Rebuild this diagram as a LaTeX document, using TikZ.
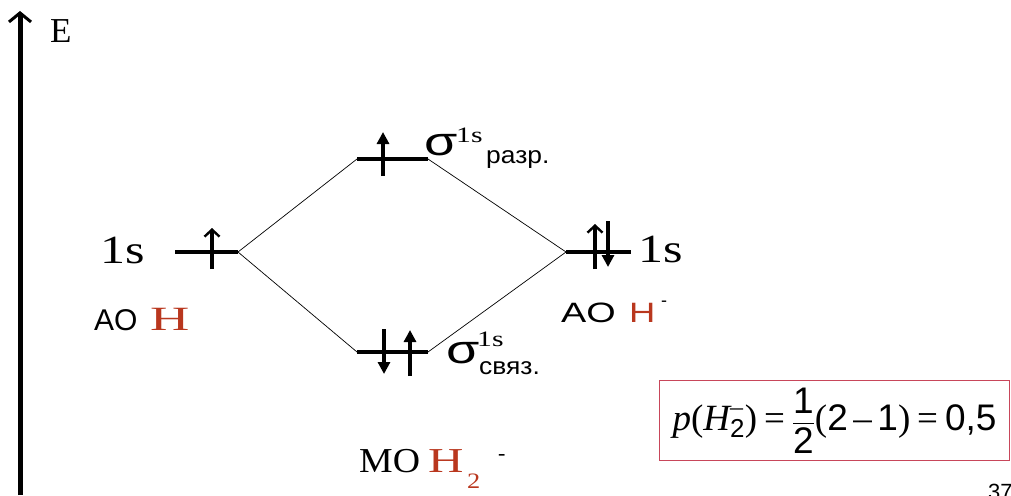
\documentclass[tikz,border=0pt]{standalone}
\usepackage{amsmath}
\usepackage{fontspec}
\setmainfont{Liberation Serif}
\newfontfamily\arialf{Liberation Sans}
\usetikzlibrary{arrows.meta}
\definecolor{hred}{RGB}{185,55,30}
\definecolor{boxred}{RGB}{200,70,90}
\newcommand\myfs[1]{\fontsize{#1}{#1}\selectfont}
\newcommand\af[1]{\text{\arialf #1}}
\newcommand\tf[1]{\text{#1}}
\newcommand\sx[2]{\scalebox{#1}[1]{#2}}
\begin{document}
\begin{tikzpicture}[x=1pt,y=-1pt,
  level/.style={line width=3.6pt},
  conn/.style={line width=0.7pt},
  upo/.style={line width=3.2pt,-{Straight Barb[length=7pt,width=15pt,line width=2.4pt]}},
  efill/.style={line width=3.2pt,-{Triangle[length=12pt,width=12pt]}},
  txt/.style={anchor=base west,inner sep=0pt}]
\useasboundingbox (0,0) rectangle (1011,495);
% axis
\coordinate (ax0) at (20,495);
\coordinate (ax1) at (20,11);
\draw[line width=5pt,-{Straight Barb[length=9pt,width=22pt,line width=3pt]}] (ax0) -- (ax1);
\node[txt,font=\myfs{35}] (E) at (50,42) {E};
% levels
\coordinate (L1) at (175,252); \coordinate (L2) at (238,252);
\coordinate (U1) at (357,159); \coordinate (U2) at (428,159);
\coordinate (B1) at (357,352); \coordinate (B2) at (428,352);
\coordinate (R1) at (566,252); \coordinate (R2) at (631,252);
\draw[level] (L1) -- (L2);
\draw[level] (U1) -- (U2);
\draw[level] (B1) -- (B2);
\draw[level] (R1) -- (R2);
\draw[conn] (L2) -- (U1);
\draw[conn] (L2) -- (B1);
\draw[conn] (U2) -- (R1);
\draw[conn] (B2) -- (R1);
% electrons
\draw[upo] (212,269) -- (212,228);
\draw[efill] (383,176) -- (383,132);
\draw[upo] (595,269) -- (595,224);
\draw[efill] (608,221) -- (608,267);
\draw[efill] (384,329) -- (384,374);
\draw[efill] (410,376) -- (410,330);
% labels
\node[txt,font=\myfs{40}] (s1l) at (100,263) {\sx{1.25}{1s}};
\node[txt,font=\myfs{40}] (s1r) at (638,262) {\sx{1.25}{1s}};
\node[txt,font=\arialf\myfs{40}] (sgu) at (424,155) {\sx{1.35}{σ}};
\node[txt,font=\myfs{22}] (sgu1) at (456,142) {\sx{1.35}{1s}};
\node[txt,font=\arialf\myfs{24}] (sgu2) at (486,163) {\sx{1.1}{разр.}};
\node[txt,font=\arialf\myfs{40}] (sgb) at (446,363) {\sx{1.35}{σ}};
\node[txt,font=\myfs{22}] (sgb1) at (477,346) {\sx{1.35}{1s}};
\node[txt,font=\arialf\myfs{24}] (sgb2) at (479,374) {\sx{1.1}{связ.}};
\node[txt,font=\arialf\myfs{30}] (aol) at (94,330) {AO};
\node[txt,font=\myfs{34},text=hred] (hl) at (150,330) {\sx{1.6}{H}};
\node[txt,font=\arialf\myfs{28}] (aor) at (561,322) {\sx{1.35}{AO}};
\node[txt,font=\arialf\myfs{28},text=hred] (hr) at (629,322) {\sx{1.3}{H}};
\node[txt,font=\arialf\myfs{18}] (hrm) at (661,306) {-};
\node[txt,font=\myfs{35}] (mo) at (359,472) {\sx{1.08}{MO}};
\node[txt,font=\myfs{35},text=hred] (h2) at (428,472) {\sx{1.4}{H}};
\node[txt,font=\myfs{22},text=hred] (h2s) at (467,488) {\sx{1.2}{2}};
\node[txt,font=\myfs{22}] (h2m) at (498,460) {-};
% formula box
\node[draw=boxred,line width=1pt,inner sep=0pt,minimum width=350pt,minimum height=80pt,font=\myfs{37}] (box) at (834.5,420.5)
 {$\tf{\itshape p}\tf{(}\tf{\itshape H}_{\af{2}}^{\tf{–}}\tf{)}\mathrel{\tf{=}}\displaystyle\frac{\af{1}}{\af{2}}\tf{(}\af{2}\mathbin{\tf{–}}\af{1}\tf{)}\mathrel{\tf{=}}\af{0,5}$};
\node[txt,font=\arialf\myfs{22}] (pg) at (988,499) {37};
\end{tikzpicture}
\end{document}
